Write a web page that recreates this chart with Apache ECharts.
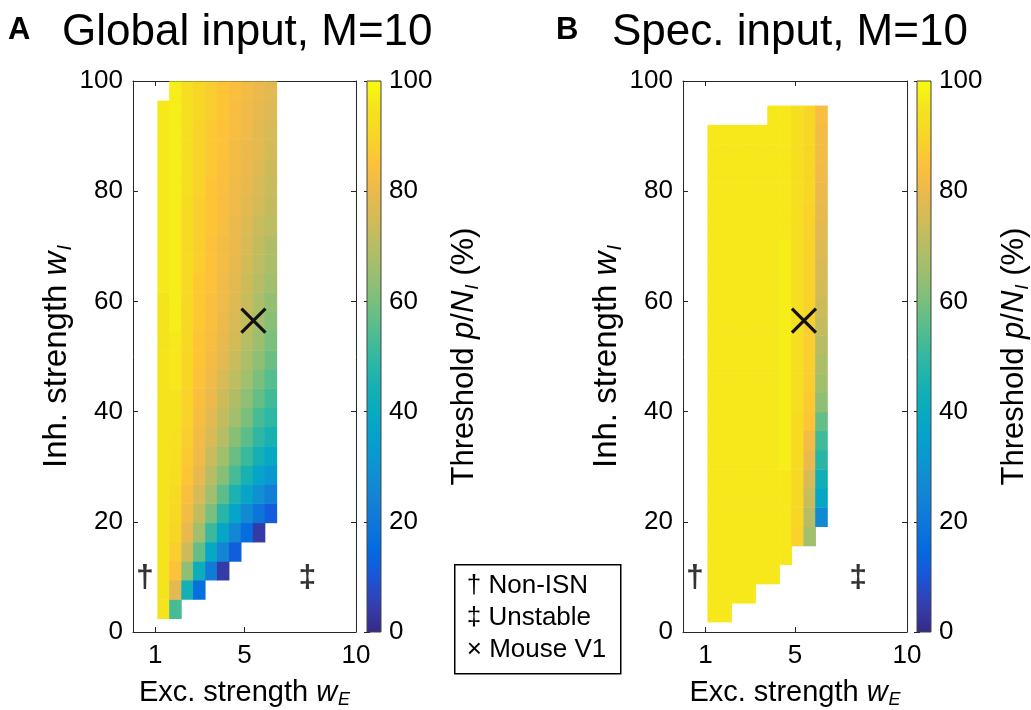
<!DOCTYPE html>
<html><head><meta charset="utf-8">
<script src="https://cdn.jsdelivr.net/npm/echarts@6/dist/echarts.min.js"></script>
<style>html,body{margin:0;padding:0;background:#fff}#c{width:1031px;height:710px}</style>
</head><body><div id="c"></div>
<script>
// ---- data ----
const wE = [1.36, 1.89, 2.43, 2.96, 3.50, 4.03, 4.57, 5.10, 5.64, 6.17];
const wI_global = [4.2, 7.7, 11.2, 14.6, 18.1, 21.6, 25.1, 28.6, 32.0, 35.5, 39.0, 42.5, 46.0, 49.4,
  52.9, 56.4, 59.9, 63.4, 66.8, 70.3, 73.8, 77.3, 80.8, 84.2, 87.7, 91.2, 94.7, 98.2];
const wI_spec = [3.6, 7.0, 10.5, 14.0, 17.4, 20.9, 24.4, 27.8, 31.3, 34.8, 38.3, 41.7, 45.2, 48.7,
  52.1, 55.6, 59.1, 62.5, 66.0, 69.5, 73.0, 76.4, 79.9, 83.4, 86.8, 90.3, 93.8];
// threshold p/N_I (%) per wE column, listed from lowest wI row upward (null = no value)
const thrGlobal = [
  [95,95,95,95,95,95,95,95,95,95,95,95,95,95,95,95,95,96,96,96,96,96,96,96,96,96,96,null],
  [53,78,85,88,90,91,92,93,94,94,95,95,96,96,96,97,97,97,97,97,97,97,97,97,97,97,97,97],
  [null,44,63,74,79,82,84,86,87,88,89,89,90,90,91,91,91,92,92,92,92,92,93,93,93,93,93,93],
  [null,17,42,57,66,72,76,79,81,82,83,84,85,86,86,87,87,87,88,88,88,88,89,89,89,89,90,90],
  [null,null,22,39,51,60,66,70,73,76,78,80,81,82,83,84,84,85,85,85,86,86,86,87,87,87,88,88],
  [null,null,4,25,38,48,56,62,66,70,72,74,76,78,79,80,81,81,82,82,83,83,84,84,85,85,86,86],
  [null,null,null,12,26,37,46,53,58,62,66,69,71,73,75,76,77,78,79,80,80,81,81,82,82,83,83,84],
  [null,null,null,null,16,27,37,45,51,56,60,63,66,68,70,72,73,74,75,76,77,78,79,80,80,81,81,82],
  [null,null,null,null,4,19,29,37,44,49,53,57,60,63,65,67,68,70,71,72,73,75,76,77,78,78,79,80],
  [null,null,null,null,null,12,23,32,39,45,49,52,55,58,60,62,64,66,68,69,71,72,73,74,75,76,77,78]
];
const thrSpec = [
  [96,96,96,96,96,96,96,96,96,96,96,96,96,96,96,96,96,96,96,96,96,96,96,96,96,96,null],
  [96,96,96,96,96,96,96,96,96,96,96,96,96,96,96,96,96,96,96,96,96,96,96,96,96,96,null],
  [null,96,96,96,96,96,96,96,96,96,96,96,96,96,96,96,96,96,96,96,96,96,96,96,96,96,null],
  [null,96,96,96,96,96,96,96,96,96,96,96,96,96,96,96,96,96,96,96,96,96,96,96,96,96,null],
  [null,null,96,96,96,96,96,96,96,96,96,96,96,96,96,96,96,96,96,96,96,96,96,96,96,96,null],
  [null,null,96,96,96,96,96,96,96,96,96,96,96,96,96,96,96,96,96,96,96,96,96,96,96,96,96],
  [null,null,null,96,96,96,96,96,97,97,97,97,97,97,97,97,97,97,97,97,96,96,96,96,96,96,96],
  [null,null,null,null,89,90,91,91,92,92,92,93,93,93,93,93,93,93,93,93,93,93,93,93,93,93,93],
  [null,null,null,null,66,70,73,76,80,82,86,87,88,88,88,88,89,89,89,89,89,89,90,90,90,90,90],
  [null,null,null,null,null,27,38,43,48,52,57,63,66,68,70,72,74,75,76,77,78,79,80,81,82,82,83]
];
const mouseV1 = [5.4, 56.5];
const regionMarks = [
  {name: '†', value: [0.53, 9.8]},
  {name: '‡', value: [7.82, 9.8]}
];
const xTicks = [1, 5, 10];
const legendLines = ['† Non-ISN', '‡ Unstable', '× Mouse V1'];

// ---- style ----
const FONT = '"Liberation Sans", Arial, Helvetica, sans-serif';
const PARULA = ['#352a87','#353eaf','#1b55d7','#036ae1','#0f77db','#1484d4','#0d93d2','#06a0cd','#07aac1',
  '#18b1b2','#33b8a1','#55bd8e','#7abf7c','#9bbf6f','#b7bd64','#d3bb58','#ecb94c','#fec13a','#f8d626','#f5e31e','#f9fb0e'];
const CELL_W = 0.535, CELL_H = 3.48, CELL_H_B = 3.47;
const AX = '#262626';

function buildCells(mat, rows) {
  const out = [];
  mat.forEach((col, c) => col.forEach((v, r) => { if (v !== null) out.push([wE[c], rows[r], v]); }));
  return out;
}

function cellRenderer(h) {
  return function (params, api) {
    const x = api.value(0), y = api.value(1);
    const p0 = api.coord([x - CELL_W / 2, y + h / 2]);
    const p1 = api.coord([x + CELL_W / 2, y - h / 2]);
    return {type: 'rect', shape: {x: p0[0], y: p0[1], width: p1[0] - p0[0] + 0.6, height: p1[1] - p0[1] + 0.6},
      style: {fill: api.visual('color')}};
  };
}

function crossRenderer(params, api) {
  const p = api.coord([api.value(0), api.value(1)]);
  const s = 12;
  return {type: 'group', children: [
    {type: 'line', shape: {x1: p[0] - s, y1: p[1] - s, x2: p[0] + s, y2: p[1] + s}, style: {stroke: '#111', lineWidth: 3.2}},
    {type: 'line', shape: {x1: p[0] - s, y1: p[1] + s, x2: p[0] + s, y2: p[1] - s}, style: {stroke: '#111', lineWidth: 3.2}}
  ]};
}

function cbarRenderer(params, api) {
  const p0 = api.coord([0, 100]);
  const p1 = api.coord([1, 0]);
  const n = PARULA.length;
  const stops = PARULA.map((c, i) => ({offset: 1 - i / (n - 1), color: c})).reverse();
  return {type: 'rect', shape: {x: p0[0], y: p0[1], width: p1[0] - p0[0], height: p1[1] - p0[1]},
    style: {fill: new echarts.graphic.LinearGradient(0, 0, 0, 1, stops), stroke: '#444', lineWidth: 1}};
}

function nameStyle(size) {
  return {fontSize: size, fontFamily: FONT, color: '#000', rich: {
    w: {fontStyle: 'italic', fontSize: size, fontFamily: FONT, color: '#000'},
    s: {fontStyle: 'italic', fontSize: Math.round(size * 0.62), fontFamily: FONT, color: '#000',
        padding: [Math.round(size * 0.52), 0, 0, 1]}
  }};
}
const lblStyle = {fontSize: 26, fontFamily: FONT, color: '#000'};
const lineStyle = {color: AX, width: 1};

function xMain(g, pos) {
  const bottom = pos === 'bottom';
  return {type: 'value', gridIndex: g, min: 0, max: 10, position: pos,
    axisLine: {show: true, onZero: false, lineStyle: lineStyle},
    axisTick: {show: true, inside: true, length: 5, customValues: xTicks, lineStyle: lineStyle},
    axisLabel: Object.assign({show: bottom, customValues: xTicks, margin: 11}, lblStyle),
    splitLine: {show: false},
    name: bottom ? 'Exc. strength {w|w}{s|E}' : '', nameLocation: 'middle', nameGap: 44, nameTextStyle: nameStyle(29)};
}
function yMain(g, pos) {
  const left = pos === 'left';
  return {type: 'value', gridIndex: g, min: 0, max: 100, interval: 20, position: pos,
    axisLine: {show: true, onZero: false, lineStyle: lineStyle},
    axisTick: {show: true, inside: true, length: 5, lineStyle: lineStyle},
    axisLabel: Object.assign({show: left, margin: 10}, lblStyle),
    splitLine: {show: false},
    name: left ? 'Inh. strength {w|w}{s|I}' : '', nameLocation: 'middle', nameRotate: 90, nameGap: 52, nameTextStyle: nameStyle(33)};
}
function yBar(g, pos) {
  const right = pos === 'right';
  return {type: 'value', gridIndex: g, min: 0, max: 100, interval: 20, position: pos,
    axisLine: {show: false},
    axisTick: {show: true, inside: true, length: 3, lineStyle: {color: '#222', width: 1}},
    axisLabel: Object.assign({show: right, margin: 8}, lblStyle),
    splitLine: {show: false},
    name: right ? 'Threshold {w|p}/{w|N}{s|I} (%)' : '', nameLocation: 'middle', nameRotate: 90, nameGap: 66,
    nameTextStyle: nameStyle(31)};
}

const chart = echarts.init(document.getElementById('c'), null, {renderer: 'canvas'});
chart.setOption({
  animation: false,
  backgroundColor: '#fff',
  textStyle: {fontFamily: FONT},
  title: [
    {text: 'A', left: 3, top: 10, textStyle: {fontSize: 31, fontWeight: 'bold', fontFamily: FONT, color: '#000'}},
    {text: 'Global input, M=10', left: 57, top: 6, textStyle: {fontSize: 44, fontWeight: 'normal', fontFamily: FONT, color: '#000'}},
    {text: 'B', left: 551, top: 10, textStyle: {fontSize: 31, fontWeight: 'bold', fontFamily: FONT, color: '#000'}},
    {text: 'Spec. input, M=10', left: 607, top: 6, textStyle: {fontSize: 44, fontWeight: 'normal', fontFamily: FONT, color: '#000'}}
  ],
  grid: [
    {left: 133, top: 81, width: 223, height: 551, outerBoundsMode: 'none', containLabel: false},
    {left: 683, top: 81, width: 224, height: 551, outerBoundsMode: 'none', containLabel: false},
    {left: 367, top: 81, width: 14, height: 551, outerBoundsMode: 'none', containLabel: false},
    {left: 917, top: 81, width: 14, height: 551, outerBoundsMode: 'none', containLabel: false}
  ],
  xAxis: [
    xMain(0, 'bottom'), xMain(0, 'top'), xMain(1, 'bottom'), xMain(1, 'top'),
    {type: 'value', gridIndex: 2, min: 0, max: 1, show: false},
    {type: 'value', gridIndex: 3, min: 0, max: 1, show: false}
  ],
  yAxis: [
    yMain(0, 'left'), yMain(0, 'right'), yMain(1, 'left'), yMain(1, 'right'),
    yBar(2, 'right'), yBar(2, 'left'), yBar(3, 'right'), yBar(3, 'left')
  ],
  visualMap: {type: 'continuous', min: 0, max: 100, dimension: 2, seriesIndex: [0, 1], show: false,
    inRange: {color: PARULA}},
  series: [
    {type: 'custom', xAxisIndex: 0, yAxisIndex: 0, clip: true, renderItem: cellRenderer(CELL_H), data: buildCells(thrGlobal, wI_global)},
    {type: 'custom', xAxisIndex: 2, yAxisIndex: 2, clip: true, renderItem: cellRenderer(CELL_H_B), data: buildCells(thrSpec, wI_spec)},
    {type: 'custom', xAxisIndex: 0, yAxisIndex: 0, renderItem: crossRenderer, data: [mouseV1], z: 5},
    {type: 'custom', xAxisIndex: 2, yAxisIndex: 2, renderItem: crossRenderer, data: [mouseV1], z: 5},
    {type: 'scatter', xAxisIndex: 0, yAxisIndex: 0, symbolSize: 0, data: regionMarks,
      label: {show: true, position: 'inside', formatter: '{b}', fontSize: 32, fontWeight: 'bold', fontFamily: FONT, color: '#000'}},
    {type: 'scatter', xAxisIndex: 2, yAxisIndex: 2, symbolSize: 0, data: regionMarks,
      label: {show: true, position: 'inside', formatter: '{b}', fontSize: 32, fontWeight: 'bold', fontFamily: FONT, color: '#000'}},
    {type: 'custom', xAxisIndex: 4, yAxisIndex: 4, renderItem: cbarRenderer, data: [[0, 0]], silent: true},
    {type: 'custom', xAxisIndex: 5, yAxisIndex: 6, renderItem: cbarRenderer, data: [[0, 0]], silent: true}
  ],
  graphic: [
    {type: 'group', left: 454, top: 564, children: [
      {type: 'rect', shape: {x: 0, y: 0, width: 166, height: 109}, style: {fill: '#fff', stroke: '#000', lineWidth: 1.5}},
      {type: 'text', x: 12, y: 21, style: {text: legendLines[0], font: '26px ' + FONT, fill: '#000', textVerticalAlign: 'middle'}},
      {type: 'text', x: 12, y: 53, style: {text: legendLines[1], font: '26px ' + FONT, fill: '#000', textVerticalAlign: 'middle'}},
      {type: 'text', x: 12, y: 85, style: {text: legendLines[2], font: '26px ' + FONT, fill: '#000', textVerticalAlign: 'middle'}}
    ]}
  ]
});
</script></body></html>
